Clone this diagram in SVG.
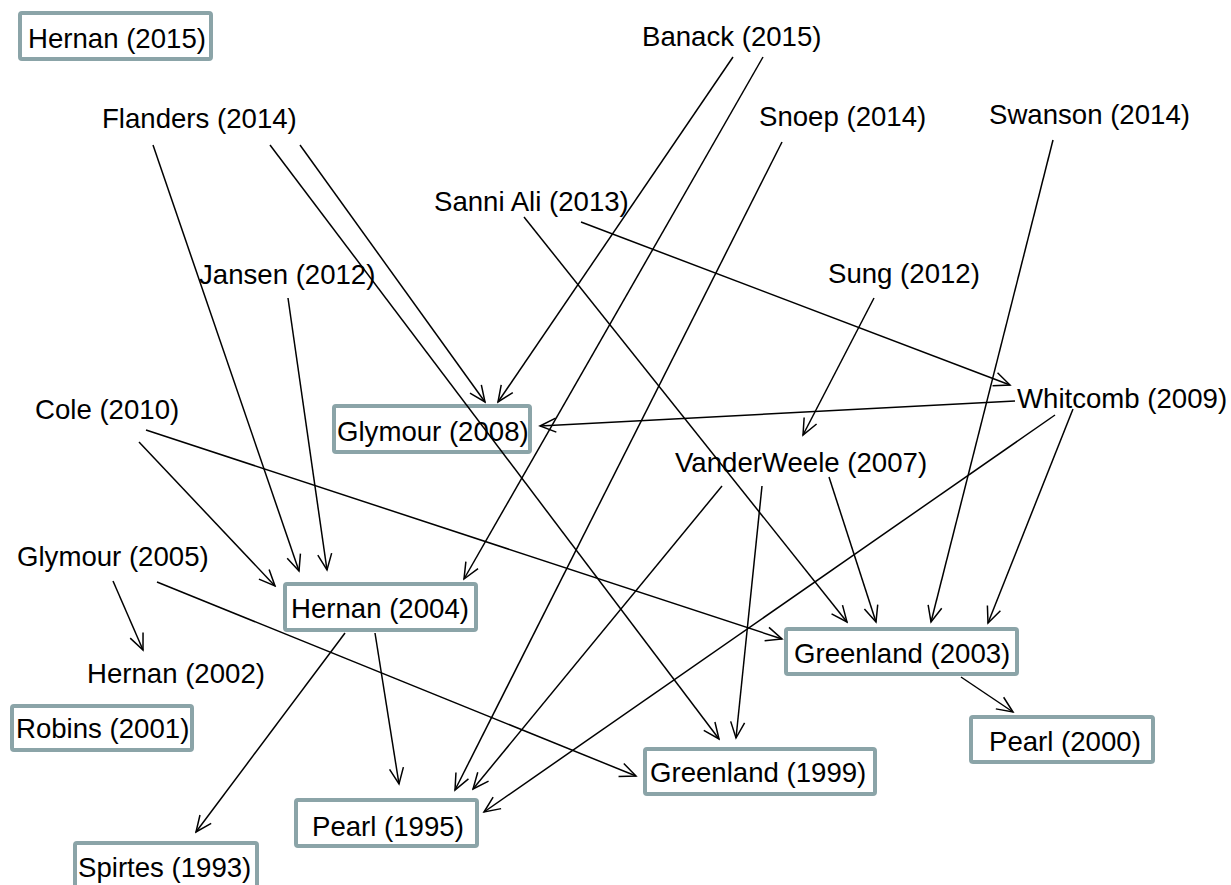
<svg xmlns="http://www.w3.org/2000/svg" width="1231" height="885" viewBox="0 0 1231 885">
<style>
text{font-family:"Liberation Sans",Arial,sans-serif;font-size:27.6px;fill:#000}
.box{fill:#fff;stroke:#8BA4A8;stroke-width:4}
.e{stroke:#000;stroke-width:1.5;fill:none;marker-end:url(#ah)}
</style>
<defs>
<marker id="ah" markerUnits="userSpaceOnUse" viewBox="-17 -9 19 18" markerWidth="19" markerHeight="18" refX="0" refY="0" orient="auto">
<path d="M-16,-7 L0,0 L-16,7" fill="none" stroke="#000" stroke-width="1.5"/>
</marker>
</defs>
<rect width="1231" height="885" fill="#fff"/>
<g id="nodes">
<g id="hernan2015"><rect class="box" x="20" y="13" width="191" height="46" rx="2"/><text x="28" y="48">Hernan (2015)</text></g>
<g id="banack2015"><text x="642" y="46">Banack (2015)</text></g>
<g id="flanders2014"><text x="102" y="128">Flanders (2014)</text></g>
<g id="snoep2014"><text x="759" y="126">Snoep (2014)</text></g>
<g id="swanson2014"><text x="989" y="124">Swanson (2014)</text></g>
<g id="sanniali2013"><text x="434" y="211">Sanni Ali (2013)</text></g>
<g id="jansen2012"><text x="199" y="284">Jansen (2012)</text></g>
<g id="sung2012"><text x="828" y="283">Sung (2012)</text></g>
<g id="whitcomb2009"><text x="1017" y="408">Whitcomb (2009)</text></g>
<g id="cole2010"><text x="35" y="419">Cole (2010)</text></g>
<g id="glymour2008"><rect class="box" x="334" y="406" width="196" height="46" rx="2"/><text x="337" y="441">Glymour (2008)</text></g>
<g id="vanderweele2007"><text x="675" y="472">VanderWeele (2007)</text></g>
<g id="glymour2005"><text x="17" y="566">Glymour (2005)</text></g>
<g id="hernan2004"><rect class="box" x="285" y="584" width="191" height="46" rx="2"/><text x="291" y="618">Hernan (2004)</text></g>
<g id="greenland2003"><rect class="box" x="786" y="629" width="231" height="45" rx="2"/><text x="794" y="663">Greenland (2003)</text></g>
<g id="hernan2002"><text x="87" y="683">Hernan (2002)</text></g>
<g id="robins2001"><rect class="box" x="12" y="706" width="180" height="44" rx="2"/><text x="16" y="738">Robins (2001)</text></g>
<g id="pearl2000"><rect class="box" x="971" y="717" width="182" height="45" rx="2"/><text x="989" y="751">Pearl (2000)</text></g>
<g id="greenland1999"><rect class="box" x="645" y="749" width="230" height="45" rx="2"/><text x="650" y="782">Greenland (1999)</text></g>
<g id="pearl1995"><rect class="box" x="296" y="800" width="181" height="46" rx="2"/><text x="312" y="836">Pearl (1995)</text></g>
<g id="spirtes1993"><rect class="box" x="75" y="843" width="182" height="46" rx="2"/><text x="78" y="877">Spirtes (1993)</text></g>
</g>
<g id="connectors">
<line class="e" x1="733" y1="57" x2="498" y2="402"/>
<line class="e" x1="763" y1="57" x2="464" y2="579"/>
<line class="e" x1="153" y1="145" x2="299" y2="571"/>
<line class="e" x1="300" y1="145" x2="485" y2="402"/>
<line class="e" x1="270" y1="145" x2="719" y2="739"/>
<line class="e" x1="782" y1="142" x2="455" y2="790"/>
<line class="e" x1="1053" y1="140" x2="931" y2="622"/>
<line class="e" x1="581" y1="222" x2="1010" y2="385"/>
<line class="e" x1="524" y1="217" x2="847" y2="622"/>
<line class="e" x1="288" y1="298" x2="327" y2="570"/>
<line class="e" x1="874" y1="298" x2="803" y2="435"/>
<line class="e" x1="1015" y1="401" x2="540" y2="426"/>
<line class="e" x1="1055" y1="415" x2="484" y2="812"/>
<line class="e" x1="1073" y1="409" x2="988" y2="623"/>
<line class="e" x1="139" y1="442" x2="275" y2="586"/>
<line class="e" x1="146" y1="430" x2="782" y2="639"/>
<line class="e" x1="722" y1="486" x2="473" y2="789"/>
<line class="e" x1="762" y1="486" x2="736" y2="738"/>
<line class="e" x1="829" y1="477" x2="876" y2="622"/>
<line class="e" x1="113" y1="581" x2="143" y2="650"/>
<line class="e" x1="157" y1="582" x2="636" y2="776"/>
<line class="e" x1="375" y1="633" x2="399" y2="784"/>
<line class="e" x1="345" y1="633" x2="196" y2="832"/>
<line class="e" x1="961" y1="677" x2="1013" y2="712"/>
</g>
</svg>
